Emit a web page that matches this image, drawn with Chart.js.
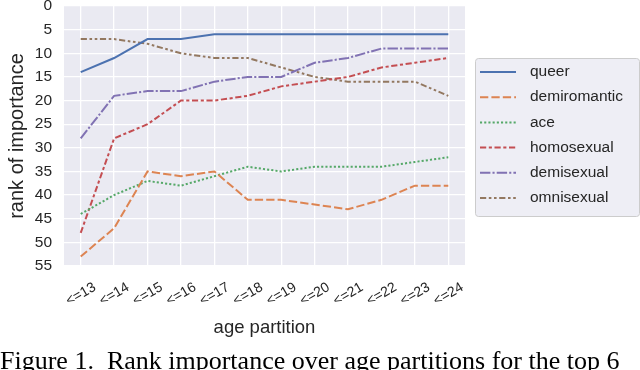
<!DOCTYPE html>
<html>
<head>
<meta charset="utf-8">
<script src="https://cdn.jsdelivr.net/npm/chart.js@4"></script>
<style>
  html, body { margin: 0; padding: 0; background: #fff; }
  #wrap { position: relative; width: 640px; height: 370px; overflow: hidden; }
  #caption {
    position: absolute; left: 0; top: 348px; white-space: nowrap;
    font-family: "Liberation Serif", "Times New Roman", serif; font-size: 26px;
    line-height: 26px; color: #000;
  }
</style>
</head>
<body>
<div id="wrap">
  <canvas id="rankChart" width="640" height="370"></canvas>
  <div id="caption">Figure 1.&nbsp; Rank importance over age partitions for the top 6</div>
</div>
<script>
// age partitions (x categories)
const ages = ['<=13', '<=14', '<=15', '<=16', '<=17', '<=18', '<=19', '<=20', '<=21', '<=22', '<=23', '<=24'];

// rank of importance per term
const queer       = [14, 11, 7, 7, 6, 6, 6, 6, 6, 6, 6, 6];
const demiromantic = [53, 47, 35, 36, 35, 41, 41, 42, 43, 41, 38, 38];
const ace         = [44, 40, 37, 38, 36, 34, 35, 34, 34, 34, 33, 32];
const homosexual  = [48, 28, 25, 20, 20, 19, 17, 16, 15, 13, 12, 11];
const demisexual  = [28, 19, 18, 18, 16, 15, 15, 12, 11, 9, 9, 9];
const omnisexual  = [7, 7, 8, 10, 11, 11, 13, 15, 16, 16, 16, 19];

const yTicks = [0, 5, 10, 15, 20, 25, 30, 35, 40, 45, 50, 55];

const textColor = '#262626';

function series(label, data, color, dash) {
    return {
        label: label,
        data: data,
        borderColor: color,
        backgroundColor: color,
        borderWidth: 2,
        borderDash: dash,
        pointRadius: 0,
        tension: 0,
        fill: false
    };
}

// grey plot background like seaborn darkgrid
const plotBackground = {
    id: 'plotBackground',
    beforeDraw(chart) {
        const a = chart.chartArea;
        const ctx = chart.ctx;
        ctx.save();
        ctx.fillStyle = '#eaeaf2';
        ctx.fillRect(a.left, a.top, a.right - a.left, a.bottom - a.top);
        ctx.restore();
    }
};

// legend box drawn to the right of the plot, with dash samples
const sideLegend = {
    id: 'sideLegend',
    afterDraw(chart) {
        const ctx = chart.ctx;
        const x0 = 475, y0 = 58, w = 164, h = 158;
        ctx.save();
        ctx.beginPath();
        ctx.roundRect(x0 + 0.5, y0 + 0.5, w, h, 3);
        ctx.fillStyle = 'rgba(234,234,242,0.8)';
        ctx.fill();
        ctx.strokeStyle = '#cccccc';
        ctx.lineWidth = 1;
        ctx.stroke();

        ctx.font = '15.5px "Liberation Sans", Arial, sans-serif';
        ctx.textBaseline = 'middle';
        ctx.fillStyle = textColor;
        chart.data.datasets.forEach(function (ds, i) {
            const y = 72 + i * 25.2;
            ctx.beginPath();
            ctx.setLineDash(ds.borderDash || []);
            ctx.strokeStyle = ds.borderColor;
            ctx.lineWidth = ds.borderWidth;
            ctx.moveTo(480, y);
            ctx.lineTo(516, y);
            ctx.stroke();
            ctx.setLineDash([]);
            ctx.fillText(ds.label, 530, y);
        });
        ctx.restore();
    }
};

new Chart(document.getElementById('rankChart').getContext('2d'), {
    type: 'line',
    data: {
        labels: ages,
        datasets: [
            series('queer', queer, '#4c72b0', []),
            series('demiromantic', demiromantic, '#dd8452', [8.3, 3.1]),
            series('ace', ace, '#55a868', [2.1, 2.1]),
            series('homosexual', homosexual, '#c44e52', [6.2, 2.6, 3.1, 2.6]),
            series('demisexual', demisexual, '#8172b3', [10.4, 2.1, 2.1, 2.1]),
            series('omnisexual', omnisexual, '#937860', [6.2, 2.6, 2.6, 2.6, 2.6, 2.6])
        ]
    },
    options: {
        responsive: false,
        animation: false,
        layout: {
            padding: { left: 5, right: 175, top: 6, bottom: 31 }
        },
        plugins: {
            legend: { display: false },
            title: { display: false },
            tooltip: { enabled: false }
        },
        scales: {
            x: {
                type: 'category',
                offset: true,
                grid: { color: '#ffffff', lineWidth: 1.3, offset: false, drawTicks: false },
                border: { display: false },
                ticks: {
                    color: textColor,
                    font: { family: '"Liberation Sans", Arial, sans-serif', size: 14 },
                    minRotation: 30,
                    maxRotation: 30,
                    autoSkip: false,
                    labelOffset: 14,
                    padding: 13
                },
                title: {
                    display: true,
                    text: 'age partition',
                    color: textColor,
                    font: { family: '"Liberation Sans", Arial, sans-serif', size: 18.5 },
                    padding: 0
                },
                afterFit: function (scale) {
                    scale.height = 73;
                    scale.paddingLeft = 0;
                    scale.paddingRight = 0;
                }
            },
            y: {
                reverse: true,
                min: 0,
                max: 55,
                grid: { color: '#ffffff', lineWidth: 1.3, drawTicks: false },
                border: { display: false },
                afterBuildTicks: function (scale) {
                    scale.ticks = yTicks.map(function (v) { return { value: v }; });
                },
                ticks: {
                    color: textColor,
                    font: { family: '"Liberation Sans", Arial, sans-serif', size: 15.5 },
                    padding: 12
                },
                title: {
                    display: true,
                    text: 'rank of importance',
                    color: textColor,
                    font: { family: '"Liberation Sans", Arial, sans-serif', size: 20 },
                    padding: 0
                },
                afterFit: function (scale) {
                    scale.width = 59;
                    scale.paddingTop = 0;
                    scale.paddingBottom = 0;
                }
            }
        }
    },
    plugins: [plotBackground, sideLegend]
});
</script>
</body>
</html>
